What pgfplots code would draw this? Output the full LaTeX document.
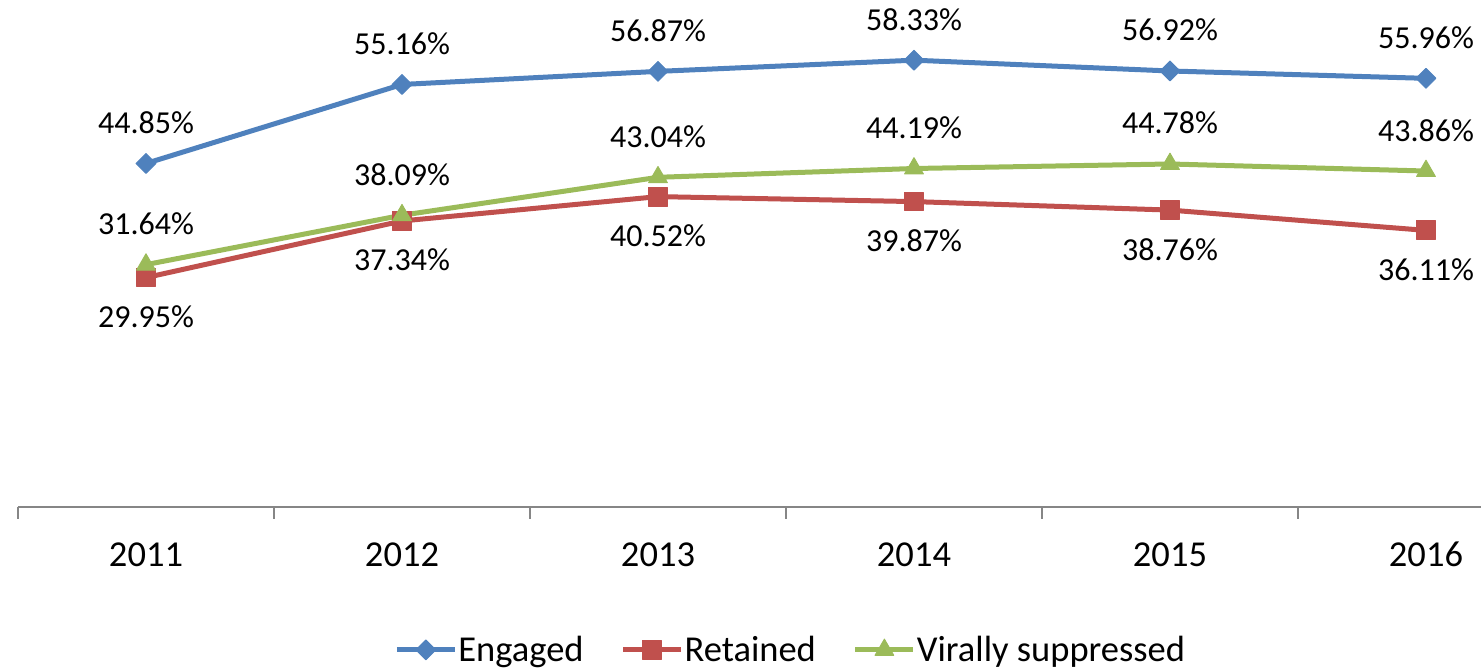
\documentclass[border=0pt]{standalone}
\usepackage{fontspec}
\setmainfont{Carlito}
\usepackage{pgfplots}
\pgfplotsset{compat=1.18}
\definecolor{cblue}{HTML}{4F81BD}
\definecolor{cred}{HTML}{C0504D}
\definecolor{cgreen}{HTML}{9BBB59}
\definecolor{axgray}{HTML}{868686}
\pgfplotstableread{
x eng ret vir
0 44.85 29.95 31.64
1 55.16 37.34 38.09
2 56.87 40.52 43.04
3 58.33 39.87 44.19
4 56.92 38.76 44.78
5 55.96 36.11 43.86
}\datatable
\begin{document}
\begin{tikzpicture}
\begin{axis}[
  at={(9pt,80.5pt)}, anchor=south west,
  scale only axis, width=731.5pt, height=229.8pt,
  xmin=-0.5, xmax=5.215, ymin=0, ymax=60,
  axis x line*=bottom, axis y line=none,
  axis line style={axgray, line width=1pt},
  xtick={0,...,5}, xticklabels={2011,2012,2013,2014,2015,2016},
  major tick length=0pt,
  minor xtick={-0.5,0.5,1.5,2.5,3.5,4.5},
  minor tick length=6pt, tick align=outside,
  minor tick style={axgray, line width=1pt},
  xticklabel style={font=\fontsize{18.25}{22}\selectfont, anchor=base, yshift=-29.85pt},
  clip=false,
  legend style={
    at={(0.257,-0.311)}, anchor=west, draw=none, fill=none,
    inner sep=0pt,
    font=\fontsize{18.25}{22}\selectfont,
    nodes={inner sep=0.5pt},
    /tikz/every odd column/.append style={column sep=0pt},
    /tikz/every even column/.append style={column sep=18pt},
  },
  legend columns=3,
  legend image code/.code={\draw[mark repeat=2,mark phase=2] plot coordinates {(0pt,0pt)(14.5pt,0pt)(29pt,0pt)};},
  every axis plot/.append style={line width=2.5pt, line join=round},
  nodes near coords={\pgfmathprintnumber[fixed,fixed zerofill,precision=2,assume math mode=true]{\pgfplotspointmeta}\%},
]
\addplot[cblue, mark=square*, mark size=3.5pt, mark options={rotate=45, line width=0.5pt, fill=cblue},
  every node near coord/.append style={anchor=base, yshift=15pt, text=black, font=\fontsize{16}{19}\selectfont}]
  table[x=x, y=eng] {\datatable};
\addlegendentry{Engaged}
\addplot[cred, mark=square*, mark size=4.7pt, mark options={line width=0.5pt, fill=cred},
  every node near coord/.append style={anchor=base, yshift=-25pt, text=black, font=\fontsize{16}{19}\selectfont}]
  table[x=x, y=ret] {\datatable};
\addlegendentry{Retained}
\addplot[cgreen, mark=triangle*, mark size=5.4pt, mark options={line width=0.5pt, fill=cgreen},
  every node near coord/.append style={anchor=base, yshift=15pt, text=black, font=\fontsize{16}{19}\selectfont}]
  table[x=x, y=vir] {\datatable};
\addlegendentry{Virally suppressed}
\end{axis}
\pgfresetboundingbox
\useasboundingbox (0,0) rectangle (740.5pt,334pt);
\end{tikzpicture}
\end{document}
